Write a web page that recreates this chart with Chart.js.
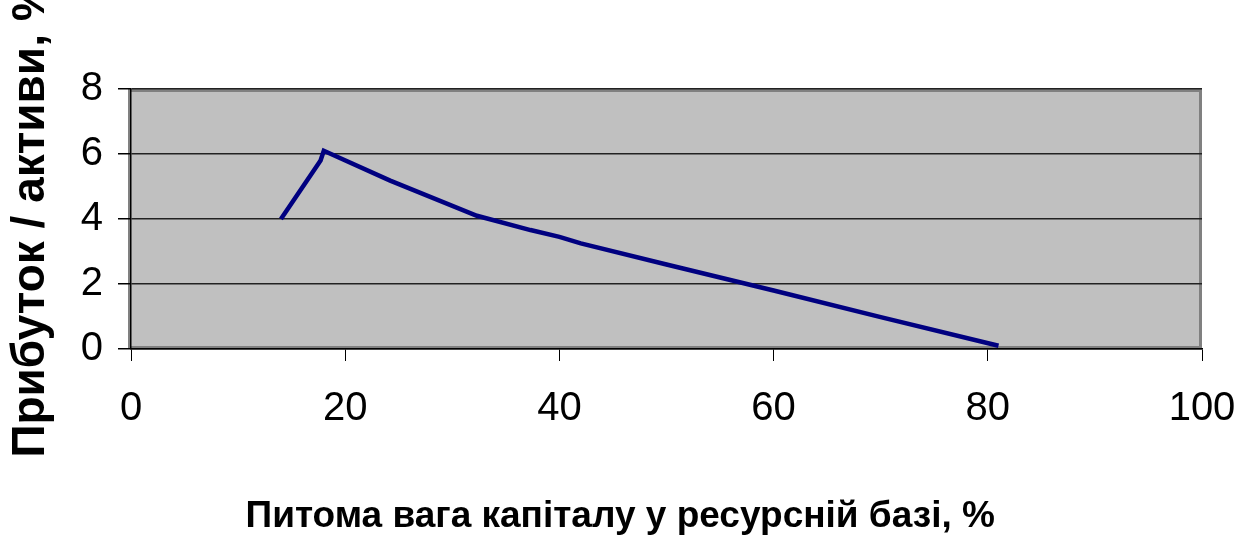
<!DOCTYPE html>
<html>
<head>
<meta charset="utf-8">
<script src="https://cdn.jsdelivr.net/npm/chart.js@4/dist/chart.umd.min.js"></script>
<style>
  html, body { margin: 0; padding: 0; background: #fff; }
  #wrap { width: 1237px; height: 537px; }
</style>
</head>
<body>
<div id="wrap"><canvas id="chart" width="1237" height="537"></canvas></div>
<script>
// data
const shareX = [14, 17.7, 18, 24.2, 32.3, 37.3, 40, 42, 50, 60, 70, 81];
const ratioY = [4.0, 5.8, 6.1, 5.18, 4.1, 3.66, 3.45, 3.25, 2.6, 1.8, 0.98, 0.1];
const xTicks = [0, 20, 40, 60, 80, 100];
const yTicks = [0, 2, 4, 6, 8];
const xTitle = "Питома вага капіталу у ресурсній базі, %";
const yTitle = "Прибуток / активи, %";

Chart.defaults.font.family = "'Liberation Sans', Arial, sans-serif";
Chart.defaults.color = "#000";

// grey plot area with darker frame
const plotBg = {
  id: "plotBg",
  beforeDraw(chart) {
    const { ctx, chartArea: a } = chart;
    ctx.save();
    ctx.fillStyle = "#c0c0c0";
    ctx.fillRect(a.left, a.top, a.right - a.left, a.bottom - a.top);
    ctx.strokeStyle = "#808080";
    ctx.lineWidth = 3;
    ctx.strokeRect(a.left - 1.5, a.top + 1.5, a.right - a.left, a.bottom - a.top - 3);
    ctx.restore();
  }
};

const points = shareX.map((x, i) => ({ x: x, y: ratioY[i] }));

// excel centres the axis title on the whole chart, not the plot,
// so pad the right side of the text a bit
const xTitlePadded = xTitle + "\u00a0".repeat(9);

new Chart(document.getElementById("chart"), {
  type: "scatter",
  data: {
    datasets: [{
      data: points,
      showLine: true,
      borderColor: "#000080",
      borderWidth: 4.5,
      pointRadius: 0,
      tension: 0,
      fill: false
    }]
  },
  options: {
    responsive: false,
    animation: false,
    layout: { padding: { left: 0, top: 89, right: 0, bottom: 0 } },
    plugins: {
      legend: { display: false },
      tooltip: { enabled: false }
    },
    scales: {
      x: {
        type: "linear",
        min: 0,
        max: 100,
        afterBuildTicks: s => { s.ticks = xTicks.map(v => ({ value: v })); },
        afterFit: s => { s.height = 188; s.paddingRight = 35; },
        grid: {
          drawOnChartArea: false,
          color: "#000",
          tickLength: 12,
          tickColor: "#000"
        },
        border: { color: "#000", width: 1.5 },
        ticks: { font: { size: 40 }, padding: 24, maxRotation: 0 },
        title: {
          display: true,
          text: xTitlePadded,
          font: { size: 37, weight: "bold", lineHeight: 1 },
          padding: { top: 0, bottom: 2 }
        }
      },
      y: {
        type: "linear",
        min: 0,
        max: 8,
        afterBuildTicks: s => { s.ticks = yTicks.map(v => ({ value: v })); },
        afterFit: s => { s.width = 131; },
        grid: {
          color: "#222",
          lineWidth: 1.5,
          tickLength: 13,
          tickColor: "#000"
        },
        border: { color: "#000", width: 1.5 },
        ticks: { font: { size: 40 }, padding: 15 },
        title: {
          display: true,
          text: yTitle,
          font: { size: 46, weight: "bold", lineHeight: 1 },
          padding: { top: 8, bottom: 0 }
        }
      }
    }
  },
  plugins: [plotBg]
});
</script>
</body>
</html>
